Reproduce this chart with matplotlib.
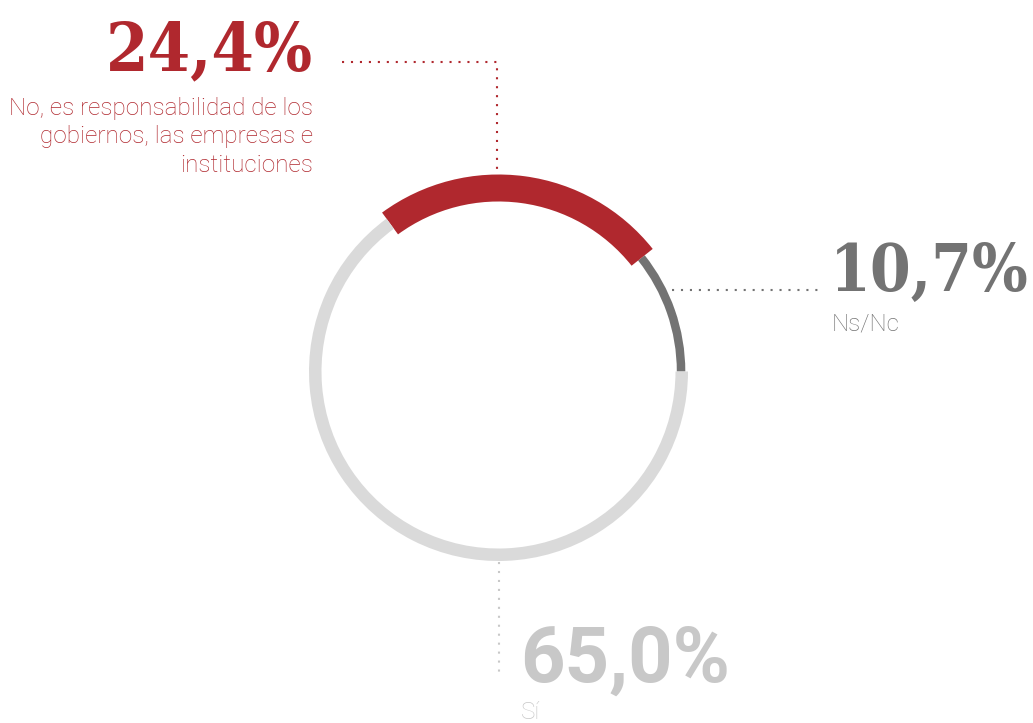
import matplotlib.pyplot as plt
from matplotlib.patches import Wedge

# data
labels = ['Ns/Nc', 'No, es responsabilidad de los\ngobiernos, las empresas e\ninstituciones', 'Sí']
values = [10.7, 24.4, 65.0]
pct_text = ['10,7%', '24,4%', '65,0%']
colors = ['#737373', '#b0282e', '#dadada']
txt_colors = ['#737373', '#b0282e', '#c8c8c8']

W, H = 1033, 723
fig = plt.figure(figsize=(W / 100, H / 100), dpi=100)
ax = fig.add_axes([0, 0, 1, 1])
ax.set_xlim(0, W)
ax.set_ylim(0, H)
ax.axis('off')

cx, cy = 498.5, H - 371.5
# ring: (outer radius, width) per segment
ring = [(186.8, 8.5), (197, 27), (189.5, 12.5)]
start = 0.0
for v, c, (r, w) in zip(values, colors, ring):
    ang = v / sum(values) * 360
    ax.add_patch(Wedge((cx, cy), r, start, start + ang, width=w, color=c, lw=0))
    start += ang

def dots(xs, ys, c):
    ax.plot(xs, [H - y for y in ys], color=c, lw=1.5, linestyle=(0, (1, 3.3)))

dots([342, 497, 497], [62, 62, 172], txt_colors[1])
dots([672, 819], [290, 290], txt_colors[0])
dots([499, 499], [562, 673], txt_colors[2])

slab = ['DejaVu Serif Condensed', 'DejaVu Serif']
# 24,4%
ax.text(313, H - 70, pct_text[1], ha='right', va='baseline', fontsize=49,
        fontweight='bold', family=slab, fontstretch='condensed', color=txt_colors[1])
for i, line in enumerate(labels[1].split('\n')):
    ax.text(313, H - (115 + 28.5 * i), line, ha='right', va='baseline', fontsize=17.5,
            family='Roboto', fontweight='light', color=txt_colors[1])

# 10,7%
ax.text(830, H - 291, pct_text[0], ha='left', va='baseline', fontsize=47,
        fontweight='bold', family=slab, fontstretch='condensed', color=txt_colors[0])
ax.text(832, H - 330, labels[0], ha='left', va='baseline', fontsize=17.5,
        family='Roboto', fontweight='light', color=txt_colors[0])

# 65,0%
ax.text(520, H - 682, pct_text[2], ha='left', va='baseline', fontsize=56,
        fontweight='bold', family='Roboto', color=txt_colors[2])
ax.text(521, H - 719, labels[2], ha='left', va='baseline', fontsize=17.5,
        family='Roboto', fontweight='light', color=txt_colors[2])

fig.savefig('out.png', dpi=100)
